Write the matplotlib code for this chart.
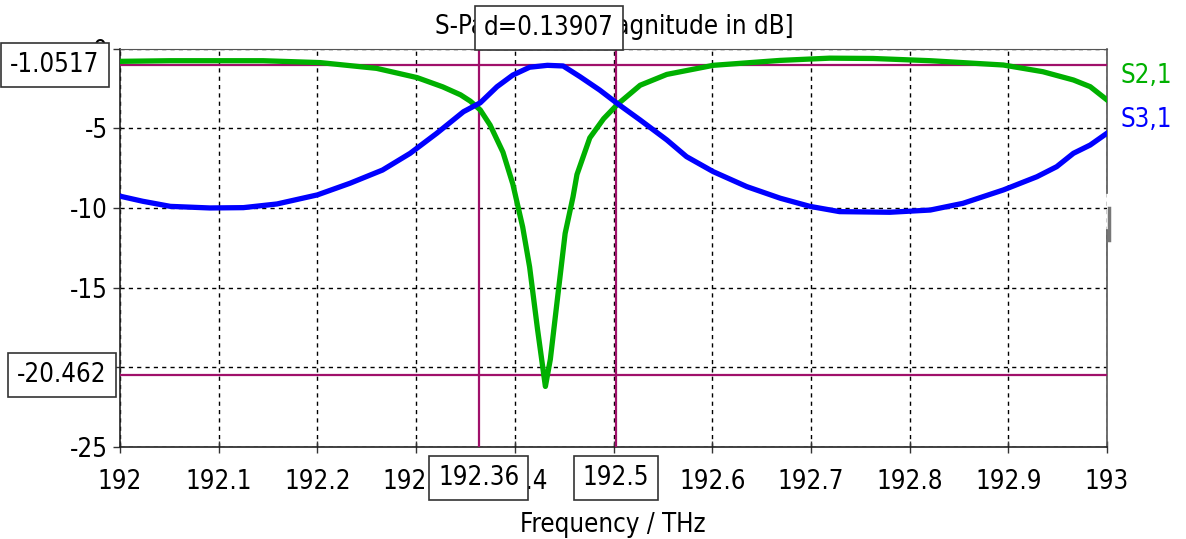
import matplotlib
matplotlib.use("Agg")
import matplotlib.pyplot as plt
import matplotlib.transforms as mtransforms

plt.rcParams['font.family'] = ['DejaVu Sans']
plt.rcParams['font.stretch'] = 'condensed'
plt.rcParams['axes.unicode_minus'] = False

# ---- data ----
f_s21 = [192.000, 192.051, 192.145, 192.203, 192.260, 192.301, 192.327, 192.345,
         192.355, 192.365, 192.375, 192.388, 192.398, 192.408, 192.415, 192.423,
         192.431, 192.436, 192.443, 192.451, 192.459, 192.463, 192.476, 192.490,
         192.504, 192.527, 192.554, 192.601, 192.669, 192.719, 192.763, 192.821,
         192.895, 192.935, 192.966, 192.983, 193.000]
s21 = [-0.80, -0.76, -0.76, -0.88, -1.24, -1.82, -2.40, -2.90,
       -3.30, -3.85, -4.80, -6.5, -8.5, -11.2, -13.7, -17.6,
       -21.2, -19.5, -15.8, -11.6, -9.3, -7.9, -5.6, -4.4,
       -3.50, -2.30, -1.62, -1.05, -0.74, -0.60, -0.62, -0.76,
       -1.03, -1.45, -1.97, -2.39, -3.22]

f_s31 = [192.000, 192.023, 192.051, 192.091, 192.125, 192.159, 192.200, 192.233,
         192.266, 192.294, 192.321, 192.348, 192.365, 192.382, 192.398, 192.415,
         192.433, 192.449, 192.466, 192.486, 192.504, 192.527, 192.554, 192.574,
         192.601, 192.635, 192.669, 192.699, 192.729, 192.780, 192.821, 192.854,
         192.895, 192.929, 192.949, 192.966, 192.983, 193.000]
s31 = [-9.26, -9.58, -9.90, -10.0, -9.98, -9.75, -9.18, -8.45,
       -7.62, -6.57, -5.31, -3.96, -3.40, -2.39, -1.66, -1.17,
       -1.05, -1.09, -1.76, -2.60, -3.45, -4.48, -5.73, -6.78,
       -7.72, -8.66, -9.39, -9.90, -10.23, -10.27, -10.13, -9.71,
       -8.87, -8.04, -7.41, -6.57, -6.05, -5.31]

x_ticks = [192, 192.1, 192.2, 192.3, 192.4, 192.5, 192.6, 192.7, 192.8, 192.9, 193]
x_tick_labels = ['192', '192.1', '192.2', '192.3', '192.4', '192.5', '192.6',
                 '192.7', '192.8', '192.9', '193']
y_ticks = [0, -5, -10, -15, -20, -25]
y_tick_labels = ['0', '-5', '-10', '-15', '-20', '-25']

cursor_x = [192.3635, 192.50257]
cursor_x_labels = ['192.36', '192.5']
cursor_y = [-1.0517, -20.462]
cursor_y_labels = ['-1.0517', '-20.462']
delta_label = 'd=0.13907'
series_names = ['S2,1', 'S3,1']

GREEN = '#00b000'
BLUE = '#0000ff'
MAG = '#a0106a'
FS = 18.5

W, H = 1186, 539
fig = plt.figure(figsize=(W / 100, H / 100), dpi=100)
L, R, T, B = 120, 1107, 48.6, 447
ax = fig.add_axes([L / W, 1 - B / H, (R - L) / W, (B - T) / H])
ax.set_xlim(192, 193)
ax.set_ylim(-25, 0)

ax.set_xticks(x_ticks)
ax.set_xticklabels(x_tick_labels, fontsize=FS)
ax.set_yticks(y_ticks)
ax.set_yticklabels(y_tick_labels, fontsize=FS)
ax.tick_params(axis='x', direction='inout', length=8, width=1, pad=12, color='#333333')
ax.tick_params(axis='y', direction='out', length=5, width=1, pad=4, color='#333333')

ax.grid(True, color='black', linestyle=(0, (3, 3)), linewidth=1)
for s in ['left', 'bottom']:
    ax.spines[s].set_color('#222222')
    ax.spines[s].set_linewidth(1.2)
ax.spines['top'].set_color('#555555')
ax.spines['right'].set_visible(False)

# right border with a gap like in the original
ax.plot([1, 1], [0.638, 1], transform=ax.transAxes, color='#555555', lw=1.2, clip_on=False)
ax.plot([1, 1], [0, 0.545], transform=ax.transAxes, color='#555555', lw=1.2, clip_on=False)
ax.plot([1.0025, 1.0025], [0.52, 0.60], transform=ax.transAxes, color='#777777', lw=2.5, clip_on=False)

# cursors
for cx in cursor_x:
    ax.axvline(cx, color=MAG, lw=1.6, zorder=3)
for cy in cursor_y:
    ax.axhline(cy, color=MAG, lw=1.6, zorder=3)

# curves
ax.plot(f_s21, s21, color=GREEN, lw=3.8, zorder=4, solid_joinstyle='round')
ax.plot(f_s31, s31, color=BLUE, lw=3.8, zorder=4, solid_joinstyle='round')

box = dict(boxstyle='square,pad=0.35', facecolor='white', edgecolor='#333333', linewidth=1.2)

# y cursor labels
ty = mtransforms.blended_transform_factory(fig.transFigure, ax.transData)
for cy, lab, xc in zip(cursor_y, cursor_y_labels, [55, 62]):
    ax.text(xc / W, cy, lab, transform=ty, ha='center', va='center', fontsize=FS,
            bbox=box, zorder=10, clip_on=False)

# x cursor labels
tx = mtransforms.blended_transform_factory(ax.transData, fig.transFigure)
for cx, lab in zip(cursor_x, cursor_x_labels):
    ax.text(cx, 1 - 478 / H, lab, transform=tx, ha='center', va='center', fontsize=FS,
            bbox=box, zorder=10, clip_on=False)

# title and delta box
fig.text(614 / W, 1 - 34 / H, 'S-Parameter [Magnitude in dB]', ha='center', va='baseline',
         fontsize=FS, zorder=1)
fig.text(549 / W, 1 - 28 / H, delta_label, ha='center', va='center', fontsize=FS,
         bbox=box, zorder=10)

# x label
fig.text(613 / W, 1 - 532 / H, 'Frequency / THz', ha='center', va='baseline', fontsize=FS)

# series labels
fig.text(1121 / W, 1 - 83 / H, series_names[0], color=GREEN, ha='left', va='baseline', fontsize=FS)
fig.text(1121 / W, 1 - 127 / H, series_names[1], color=BLUE, ha='left', va='baseline', fontsize=FS)

fig.savefig('out.png', dpi=100)
